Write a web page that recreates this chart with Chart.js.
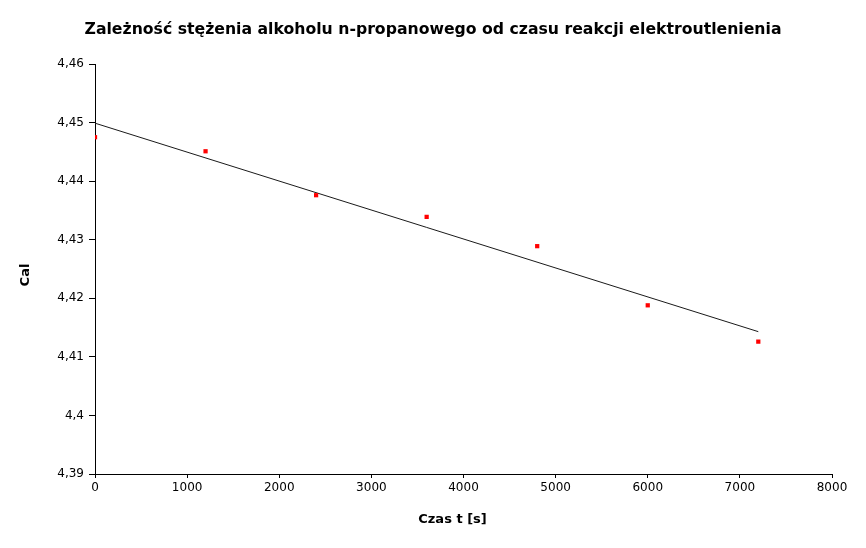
<!DOCTYPE html>
<html>
<head>
<meta charset="utf-8">
<script src="https://cdn.jsdelivr.net/npm/chart.js@4/dist/chart.umd.min.js"></script>
<style>
  html, body { margin: 0; padding: 0; background: #fff; }
  #wrap { width: 866px; height: 548px; }
</style>
</head>
<body>
<div id="wrap"><canvas id="wykres" width="866" height="548"></canvas></div>
<script>
// Dane pomiarowe
const czas = [0, 1200, 2400, 3600, 4800, 6000, 7200];
const stezenie = [4.4475, 4.4451, 4.4376, 4.4339, 4.4289, 4.4188, 4.4126];

// Linia trendu (początek i koniec)
const trendCzas = [0, 7200];
const trendStezenie = [4.4499, 4.4143];

const yTicks = [4.39, 4.40, 4.41, 4.42, 4.43, 4.44, 4.45, 4.46];

const tytul = "Zależność stężenia alkoholu n-propanowego od czasu reakcji elektroutlenienia";
const font = "'DejaVu Sans', sans-serif";

const punkty = czas.map((t, i) => ({ x: t, y: stezenie[i] }));
const trend = trendCzas.map((t, i) => ({ x: t, y: trendStezenie[i] }));

// Tytuł i podpisy osi rysowane ręcznie (w oryginale tytuł jest na środku całego obrazka)
const podpisy = {
    id: "podpisy",
    afterDraw(chart) {
        const { ctx, chartArea } = chart;
        ctx.save();
        ctx.fillStyle = "#000";
        ctx.textAlign = "center";
        ctx.textBaseline = "middle";
        ctx.font = "bold 15.7px " + font;
        ctx.fillText(tytul, chart.width / 2, 30);
        ctx.font = "bold 13px " + font;
        ctx.fillText("Czas t [s]", (chartArea.left + chartArea.right) / 2 - 11, chart.height - 28);
        ctx.translate(26, (chartArea.top + chartArea.bottom) / 2 + 6);
        ctx.rotate(-Math.PI / 2);
        ctx.fillText("Cal", 0, 0);
        ctx.restore();
    }
};

new Chart(document.getElementById("wykres"), {
    type: "scatter",
    data: {
        datasets: [
            {
                label: "Cal",
                data: punkty,
                pointStyle: "rect",
                pointRadius: 3,
                pointBorderWidth: 0,
                backgroundColor: "#ff0000",
                borderColor: "#ff0000"
            },
            {
                label: "trend",
                data: trend,
                showLine: true,
                pointRadius: 0,
                borderColor: "#1a1a1a",
                borderWidth: 1
            }
        ]
    },
    plugins: [podpisy],
    options: {
        responsive: false,
        animation: false,
        layout: { padding: { left: 0, right: 34, top: 64, bottom: 0 } },
        plugins: {
            legend: { display: false },
            tooltip: { enabled: false },
            title: { display: false }
        },
        scales: {
            x: {
                type: "linear",
                min: 0,
                max: 8000,
                afterFit: s => { s.height = 74; },
                ticks: {
                    stepSize: 1000,
                    padding: 3,
                    color: "#000",
                    font: { family: font, size: 12 },
                    callback: v => String(v)
                },
                grid: { drawOnChartArea: false, tickLength: 4, tickColor: "#000" },
                border: { color: "#000", width: 1 }
            },
            y: {
                min: 4.39,
                max: 4.46,
                afterFit: s => { s.width = 95; },
                afterBuildTicks: s => { s.ticks = yTicks.map(v => ({ value: v })); },
                ticks: {
                    padding: 5,
                    color: "#000",
                    font: { family: font, size: 12 },
                    callback: v => String(Math.round(v * 100) / 100).replace(".", ",")
                },
                grid: { drawOnChartArea: false, tickLength: 6, tickColor: "#000" },
                border: { color: "#000", width: 1 }
            }
        }
    }
});
</script>
</body>
</html>
